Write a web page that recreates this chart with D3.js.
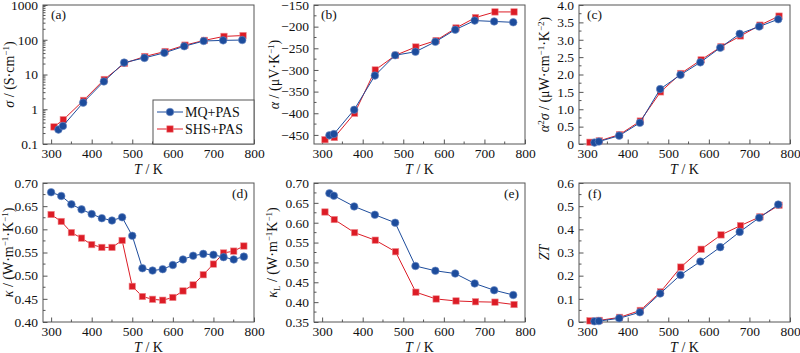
<!DOCTYPE html>
<html lang="en">
<head>
<meta charset="UTF-8">
<title>thermoelectric properties</title>
<style>
  body { margin: 0; background: #fff; }
  svg text { font-family: "Liberation Serif", "Times New Roman", serif; fill: #111; }
</style>
</head>
<body>
<svg id="chart" width="800" height="353" font-family="Liberation Serif"></svg>
<script src="https://cdn.jsdelivr.net/npm/d3@7"></script>
<script>
// temperatures (K)
var tMQ  = [318, 329, 379, 430, 480, 530, 579, 628, 676, 724, 771];
var tSHS = [307, 330, 380, 431, 481, 531, 581, 630, 678, 726, 773];
var tKappa = [300, 325, 350, 375, 400, 425, 450, 475, 500, 525, 550, 575, 600, 625, 650, 675, 700, 725, 750, 775];
var xTicks = [300, 400, 500, 600, 700, 800];

// (a) electrical conductivity
var sigmaMQ  = [0.26, 0.33, 1.55, 6.3, 22, 30, 42, 65, 92, 96, 98];
var sigmaSHS = [0.31, 0.50, 1.8, 7.2, 21, 33, 46, 70, 96, 125, 132];
// (b) seebeck
var alphaMQ  = [-451, -448, -392, -313, -266, -258, -235, -207, -186, -188, -190];
var alphaSHS = [-461, -456, -400, -300, -266, -247, -232, -203, -179, -166, -166];
// (c) power factor
var pfMQ  = [0.04, 0.07, 0.24, 0.61, 1.58, 1.99, 2.35, 2.77, 3.17, 3.38, 3.59];
var pfSHS = [0.05, 0.09, 0.27, 0.66, 1.50, 2.03, 2.42, 2.80, 3.11, 3.42, 3.68];
// (d) thermal conductivity
var kappaMQ  = [0.680, 0.672, 0.654, 0.643, 0.633, 0.624, 0.619, 0.626, 0.586, 0.516, 0.511, 0.514, 0.523, 0.535, 0.543, 0.547, 0.545, 0.540, 0.535, 0.541];
var kappaSHS = [0.632, 0.617, 0.593, 0.581, 0.567, 0.561, 0.561, 0.576, 0.477, 0.455, 0.449, 0.447, 0.453, 0.467, 0.480, 0.502, 0.525, 0.549, 0.553, 0.564];
// (e) lattice thermal conductivity
var kLMQ  = [0.674, 0.668, 0.641, 0.620, 0.600, 0.491, 0.479, 0.472, 0.447, 0.430, 0.418];
var kLSHS = [0.627, 0.608, 0.575, 0.556, 0.527, 0.425, 0.408, 0.403, 0.401, 0.400, 0.394];
// (f) ZT
var ztMQ  = [0.003, 0.004, 0.016, 0.042, 0.123, 0.203, 0.261, 0.323, 0.389, 0.450, 0.507];
var ztSHS = [0.005, 0.007, 0.020, 0.050, 0.130, 0.237, 0.314, 0.376, 0.416, 0.454, 0.504];

var seriesNames = ["MQ+PAS", "SHS+PAS"];
var blue = "#1d4c9c", red = "#dc1c26";
var frameColor = "#555";
var rC = 3.8, sq = 6.4;

var w = 211, h = 139;
var svg = d3.select("#chart");

// writes text made of parts; sup parts are raised, sub parts lowered
function rich(text, parts) {
  var shift = 0;
  parts.forEach(function (p) {
    var ts = text.append("tspan").text(p.t);
    if (p.i) ts.style("font-style", "italic");
    var want = p.sup ? -5 : (p.sub ? 3 : 0);
    if (want !== shift) { ts.attr("dy", want - shift); shift = want; }
    if (p.sup || p.sub) ts.attr("font-size", "9px");
  });
}

function panel(opt) {
  var g = svg.append("g").attr("transform", "translate(" + opt.x + "," + opt.y + ")");
  var x = d3.scaleLinear().domain([280, 800]).range([0, w]);
  var y = opt.log ? d3.scaleLog().domain(opt.yDomain).range([h, 0])
                  : d3.scaleLinear().domain(opt.yDomain).range([h, 0]);

  // minor ticks
  var xMinor = [350, 450, 550, 650, 750];
  g.selectAll(".xminor").data(xMinor).enter().append("line")
    .attr("x1", x).attr("x2", x).attr("y1", h).attr("y2", h - 2.5)
    .attr("stroke", frameColor);
  g.selectAll(".yminor").data(opt.yMinor).enter().append("line")
    .attr("y1", y).attr("y2", y).attr("x1", 0).attr("x2", 2.5)
    .attr("stroke", frameColor);

  var xAxis = g.append("g").attr("transform", "translate(0," + h + ")")
    .call(d3.axisBottom(x).tickValues(xTicks).tickSizeInner(-4.5).tickSizeOuter(0).tickPadding(4));
  var yAxis = g.append("g")
    .call(d3.axisLeft(y).tickValues(opt.yTicks).tickFormat(opt.fmt).tickSizeInner(-4.5).tickSizeOuter(0).tickPadding(5));
  [xAxis, yAxis].forEach(function (a) {
    a.attr("font-family", null).attr("font-size", null);
    a.select(".domain").remove();
    a.selectAll("line").attr("stroke", frameColor);
    a.selectAll("text").attr("font-size", "13.5px").attr("fill", "#111");
  });

  g.append("rect").attr("width", w).attr("height", h)
    .attr("fill", "none").attr("stroke", frameColor).attr("stroke-width", 1);

  var line = d3.line().x(function (d) { return x(d[0]); }).y(function (d) { return y(d[1]); });
  var redPts = opt.tRed.map(function (t, i) { return [t, opt.red[i]]; });
  var bluePts = opt.tBlue.map(function (t, i) { return [t, opt.blue[i]]; });

  g.append("path").datum(redPts).attr("d", line).attr("fill", "none").attr("stroke", red).attr("stroke-width", 1);
  g.selectAll(".sq").data(redPts).enter().append("rect")
    .attr("x", function (d) { return x(d[0]) - sq / 2; }).attr("y", function (d) { return y(d[1]) - sq / 2; })
    .attr("width", sq).attr("height", sq).attr("fill", red).attr("stroke", "#f08a8f").attr("stroke-width", 0.6);
  g.append("path").datum(bluePts).attr("d", line).attr("fill", "none").attr("stroke", blue).attr("stroke-width", 1);
  g.selectAll(".ci").data(bluePts).enter().append("circle")
    .attr("cx", function (d) { return x(d[0]); }).attr("cy", function (d) { return y(d[1]); })
    .attr("r", rC).attr("fill", blue).attr("stroke", "#6d8cc4").attr("stroke-width", 0.6);

  g.append("text").attr("x", opt.labX).attr("y", opt.labY).attr("font-size", "13.5px").text(opt.label);

  var xt = g.append("text").attr("x", w / 2).attr("y", h + 30).attr("text-anchor", "middle").attr("font-size", "14px");
  rich(xt, [{ t: "T", i: true }, { t: " / K" }]);

  var yt = g.append("text").attr("text-anchor", "middle").attr("font-size", "14px")
    .attr("transform", "translate(" + opt.titleX + "," + (h / 2) + ") rotate(-90)");
  rich(yt, opt.title);
  return g;
}

var ga = panel({
  x: 43, y: 5, log: true, yDomain: [0.1, 1000],
  yTicks: [0.1, 1, 10, 100, 1000], fmt: function (d) { return d < 1 ? "0.1" : String(d); },
  yMinor: [0.2, 0.3, 0.4, 0.5, 0.6, 0.7, 0.8, 0.9, 2, 3, 4, 5, 6, 7, 8, 9, 20, 30, 40, 50, 60, 70, 80, 90, 200, 300, 400, 500, 600, 700, 800, 900],
  tBlue: tMQ, blue: sigmaMQ, tRed: tSHS, red: sigmaSHS,
  label: "(a)", labX: 8, labY: 14, titleX: -29,
  title: [{ t: "σ", i: true }, { t: " / (S·cm" }, { t: "−1", sup: true }, { t: ")" }]
});
// legend
var lg = ga.append("g");
lg.append("rect").attr("x", 110).attr("y", 95).attr("width", w - 110).attr("height", h - 95)
  .attr("fill", "#fff").attr("stroke", frameColor);
[blue, red].forEach(function (c, i) {
  var yy = 107 + i * 17;
  lg.append("line").attr("x1", 114).attr("x2", 140).attr("y1", yy).attr("y2", yy).attr("stroke", c);
  if (i === 0) lg.append("circle").attr("cx", 127).attr("cy", yy).attr("r", rC).attr("fill", blue).attr("stroke", "#6d8cc4").attr("stroke-width", 0.6);
  else lg.append("rect").attr("x", 127 - sq / 2).attr("y", yy - sq / 2).attr("width", sq).attr("height", sq).attr("fill", red).attr("stroke", "#f08a8f").attr("stroke-width", 0.6);
  lg.append("text").attr("x", 142).attr("y", yy + 4.5).attr("font-size", "14px").text(seriesNames[i]);
});

panel({
  x: 314, y: 5, yDomain: [-471, -150],
  yTicks: [-450, -400, -350, -300, -250, -200, -150], fmt: d3.format("d"),
  yMinor: [-425, -375, -325, -275, -225, -175],
  tBlue: tMQ, blue: alphaMQ, tRed: tSHS, red: alphaSHS,
  label: "(b)", labX: 7, labY: 14, titleX: -35,
  title: [{ t: "α", i: true }, { t: " / (μV·K" }, { t: "−1", sup: true }, { t: ")" }]
});

panel({
  x: 579, y: 5, yDomain: [0, 4],
  yTicks: [0, 0.5, 1, 1.5, 2, 2.5, 3, 3.5, 4], fmt: function (d) { return d === 0 ? "0" : d3.format(".1f")(d); },
  yMinor: [0.25, 0.75, 1.25, 1.75, 2.25, 2.75, 3.25, 3.75],
  tBlue: tMQ, blue: pfMQ, tRed: tSHS, red: pfSHS,
  label: "(c)", labX: 8, labY: 14, titleX: -30,
  title: [{ t: "α", i: true }, { t: "2", sup: true }, { t: "σ", i: true }, { t: " / (μW·cm" }, { t: "−1", sup: true }, { t: "·K" }, { t: "−2", sup: true }, { t: ")" }]
});

panel({
  x: 43, y: 183, yDomain: [0.40, 0.70],
  yTicks: [0.40, 0.45, 0.50, 0.55, 0.60, 0.65, 0.70], fmt: d3.format(".2f"),
  yMinor: [0.425, 0.475, 0.525, 0.575, 0.625, 0.675],
  tBlue: tKappa, blue: kappaMQ, tRed: tKappa, red: kappaSHS,
  label: "(d)", labX: 189, labY: 15, titleX: -30,
  title: [{ t: "κ", i: true }, { t: " / (W·m" }, { t: "−1", sup: true }, { t: "·K" }, { t: "−1", sup: true }, { t: ")" }]
});

panel({
  x: 314, y: 183, yDomain: [0.35, 0.70],
  yTicks: [0.35, 0.40, 0.45, 0.50, 0.55, 0.60, 0.65, 0.70], fmt: d3.format(".2f"),
  yMinor: [0.375, 0.425, 0.475, 0.525, 0.575, 0.625, 0.675],
  tBlue: tMQ, blue: kLMQ, tRed: tSHS, red: kLSHS,
  label: "(e)", labX: 190, labY: 15, titleX: -37,
  title: [{ t: "κ", i: true }, { t: "L", sub: true }, { t: " / (W·m" }, { t: "−1", sup: true }, { t: "K" }, { t: "−1", sup: true }, { t: ")" }]
});

panel({
  x: 579, y: 183, yDomain: [0, 0.6],
  yTicks: [0, 0.1, 0.2, 0.3, 0.4, 0.5, 0.6], fmt: function (d) { return d === 0 ? "0" : d3.format(".1f")(d); },
  yMinor: [0.05, 0.15, 0.25, 0.35, 0.45, 0.55],
  tBlue: tMQ, blue: ztMQ, tRed: tSHS, red: ztSHS,
  label: "(f)", labX: 9, labY: 15, titleX: -30,
  title: [{ t: "ZT", i: true }]
});
</script>
</body>
</html>
